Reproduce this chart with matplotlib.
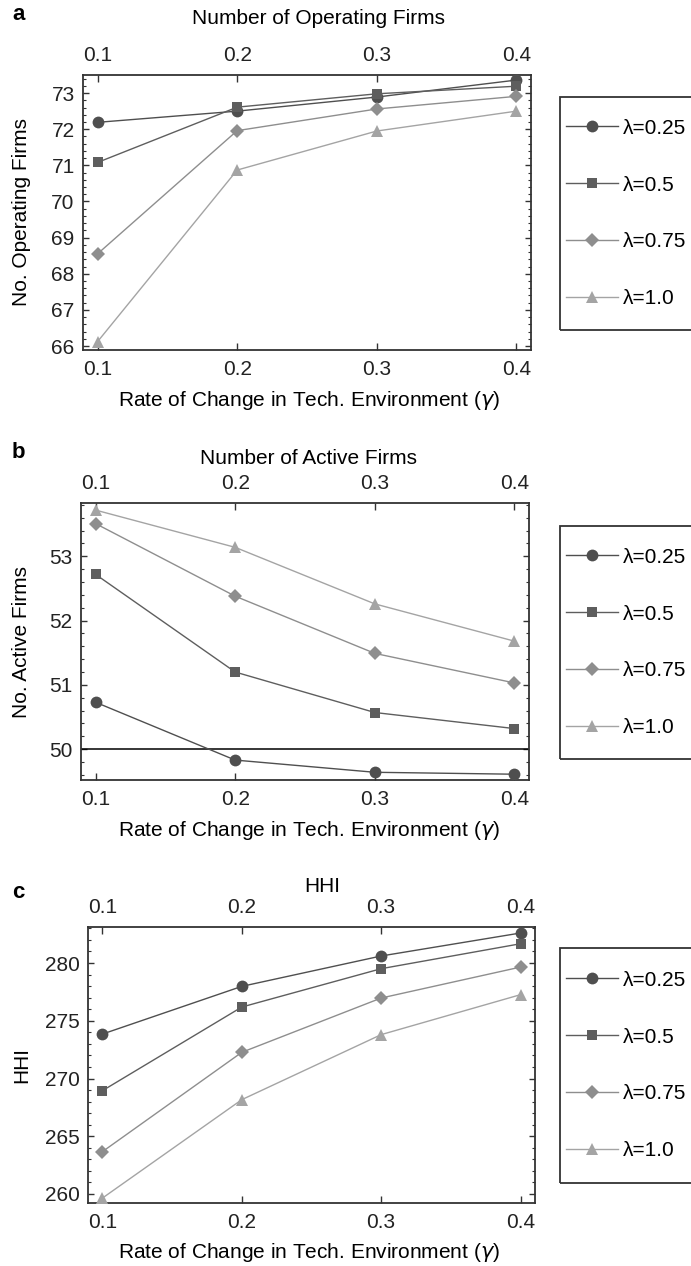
import numpy as np
import matplotlib
matplotlib.use('Agg')
import matplotlib.pyplot as plt
from matplotlib.patches import Rectangle
from matplotlib.ticker import MultipleLocator

plt.rcParams['font.family'] = ['Liberation Sans', 'DejaVu Sans']
plt.rcParams['mathtext.fontset'] = 'dejavusans'

# data
gamma = [0.1, 0.2, 0.3, 0.4]
labels = ['λ=0.25', 'λ=0.5', 'λ=0.75', 'λ=1.0']

op_025 = [72.19, 72.50, 72.89, 73.36]
op_05 = [71.08, 72.61, 72.98, 73.19]
op_075 = [68.55, 71.96, 72.56, 72.91]
op_10 = [66.12, 70.87, 71.95, 72.50]

act_025 = [50.73, 49.83, 49.64, 49.61]
act_05 = [52.72, 51.20, 50.57, 50.32]
act_075 = [53.51, 52.38, 51.49, 51.03]
act_10 = [53.72, 53.14, 52.26, 51.68]

hhi_025 = [273.85, 277.98, 280.61, 282.60]
hhi_05 = [268.95, 276.19, 279.51, 281.67]
hhi_075 = [263.67, 272.27, 276.97, 279.65]
hhi_10 = [259.65, 268.17, 273.80, 277.26]

colors = ['#4f4f4f', '#5e5e5e', '#8e8e8e', '#a4a4a4']
markers = ['o', 's', 'D', '^']
msizes = [8.5, 7.5, 7, 8]

W, H = 691, 1266
fig = plt.figure(figsize=(W / 100, H / 100), dpi=100)
FS = 15


def px_axes(l, t, r, b):
    return [l / W, 1 - b / H, (r - l) / W, (b - t) / H]


panels = [
    dict(rect=(83, 75, 531, 350), series=[op_025, op_05, op_075, op_10],
         ylim=(65.89, 73.5), major=1, minor=0.2, letter='a', lety=15,
         title='Number of Operating Firms', titlex=318, titley=18,
         ylabel='No. Operating Firms', xlaby=400, leg=(97, 330), hline=None),
    dict(rect=(81, 503, 529, 780), series=[act_025, act_05, act_075, act_10],
         ylim=(49.52, 53.83), major=1, minor=0.2, letter='b', lety=453,
         title='Number of Active Firms', titlex=308, titley=458,
         ylabel='No. Active Firms', xlaby=830, leg=(526, 759), hline=50),
    dict(rect=(88, 927, 535, 1203), series=[hhi_025, hhi_05, hhi_075, hhi_10],
         ylim=(259.22, 283.12), major=5, minor=1, letter='c', lety=893,
         title='HHI', titlex=322, titley=886,
         ylabel='HHI', xlaby=1252, leg=(948, 1183), hline=None),
]

for p in panels:
    l, t, r, b = p['rect']
    ax = fig.add_axes(px_axes(l, t, r, b))
    handles = []
    for vals, c, m, ms, lab in zip(p['series'], colors, markers, msizes, labels):
        h, = ax.plot(gamma, vals, color=c, marker=m, markersize=ms, lw=1.0,
                     markeredgewidth=0, label=lab, clip_on=False, zorder=3)
        handles.append(h)
    if p['hline'] is not None:
        ax.axhline(p['hline'], color='black', lw=1.1, zorder=2)

    ax.set_xlim(0.0896, 0.4104)
    ax.set_ylim(*p['ylim'])
    ax.set_xticks(gamma)
    ax.set_xticklabels(['0.1', '0.2', '0.3', '0.4'])
    ax.yaxis.set_major_locator(MultipleLocator(p['major']))
    ax.yaxis.set_minor_locator(MultipleLocator(p['minor']))
    ax.tick_params(axis='both', which='both', direction='in', top=True, right=True,
                   labeltop=True, labelsize=FS, colors='#333333', labelcolor='#222222')
    ax.tick_params(axis='x', which='major', length=5, width=1, pad=7)
    ax.tick_params(axis='y', which='major', length=4.5, width=1, pad=6)
    ax.tick_params(axis='y', which='minor', length=2.5, width=0.8)
    for s in ax.spines.values():
        s.set_color('#333333')
        s.set_linewidth(1.3)

    ax.set_ylabel(p['ylabel'], fontsize=FS)
    ax.yaxis.set_label_coords((31 - l) / (r - l), 0.5)
    fig.text(309 / W, 1 - p['xlaby'] / H,
             r'Rate of Change in Tech. Environment ($\gamma$)',
             fontsize=FS, ha='center', va='center')
    fig.text(p['titlex'] / W, 1 - p['titley'] / H, p['title'],
             fontsize=FS, ha='center', va='center')
    fig.text(12 / W, 1 - p['lety'] / H, p['letter'], fontsize=16,
             fontweight='bold', ha='left', va='center')

    # legend box runs off the right edge
    lt, lb = p['leg']
    fig.patches.append(Rectangle((560 / W, 1 - lb / H), 200 / W, (lb - lt) / H,
                                 transform=fig.transFigure, fill=False,
                                 edgecolor='#333333', lw=1.3))
    fig.legend(handles=handles, loc='center left',
               bbox_to_anchor=(566 / W, 1 - (lt + lb) / 2 / H),
               bbox_transform=fig.transFigure, frameon=False, fontsize=FS,
               handlelength=2.5, handletextpad=0.25, labelspacing=1.82,
               borderpad=0, borderaxespad=0)

fig.savefig('out.png', dpi=100)
